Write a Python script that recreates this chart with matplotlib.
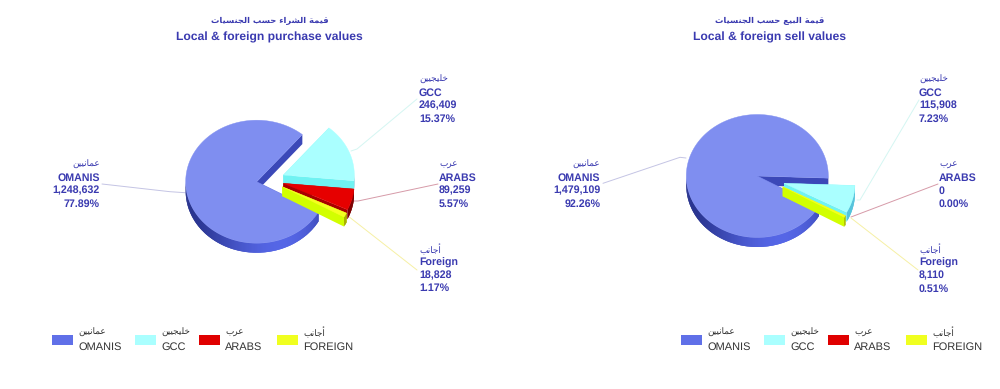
import numpy as np
import matplotlib
matplotlib.use("Agg")
import matplotlib.pyplot as plt
from matplotlib.patches import Polygon, Rectangle

plt.rcParams["text.hinting"] = "no_hinting"

# ---- data ----
categories = ["OMANIS", "GCC", "ARABS", "FOREIGN"]
categories_ar = ["عمانيين", "خليجيين", "عرب", "أجانب"]
label_names = ["OMANIS", "GCC", "ARABS", "Foreign"]
purchase_values = [1248632, 246409, 89259, 18828]
purchase_pct = ["77.89%", "15.37%", "5.57%", "1.17%"]
sell_values = [1479109, 115908, 0, 8110]
sell_pct = ["92.26%", "7.23%", "0.00%", "0.51%"]
purchase_title = ["قيمة الشراء حسب الجنسيات", "Local & foreign purchase values"]
sell_title = ["قيمة البيع حسب الجنسيات", "Local & foreign sell values"]

# ---- Arabic shaping (matplotlib does not shape or reorder) ----
FORMS = {  # isolated, final, initial, medial
    "ء": "\ufe80", "أ": "\ufe83\ufe84", "ا": "\ufe8d\ufe8e",
    "ة": "\ufe93\ufe94", "ر": "\ufead\ufeae",
    "ب": "\ufe8f\ufe90\ufe91\ufe92", "ج": "\ufe9d\ufe9e\ufe9f\ufea0",
    "ح": "\ufea1\ufea2\ufea3\ufea4", "خ": "\ufea5\ufea6\ufea7\ufea8",
    "س": "\ufeb1\ufeb2\ufeb3\ufeb4", "ش": "\ufeb5\ufeb6\ufeb7\ufeb8",
    "ع": "\ufec9\ufeca\ufecb\ufecc", "ق": "\ufed5\ufed6\ufed7\ufed8",
    "ل": "\ufedd\ufede\ufedf\ufee0", "م": "\ufee1\ufee2\ufee3\ufee4",
    "ن": "\ufee5\ufee6\ufee7\ufee8", "ي": "\ufef1\ufef2\ufef3\ufef4",
}


def shape(text):
    out = []
    for i, c in enumerate(text):
        f = FORMS.get(c)
        if f is None:
            out.append(c)
            continue
        p = text[i - 1] if i else " "
        n = text[i + 1] if i + 1 < len(text) else " "
        jp = p in FORMS and len(FORMS[p]) == 4
        jn = n in FORMS and len(f) == 4
        idx = (1 if jp else 0) + (2 if jn else 0)
        if len(f) < 4:
            idx = min(idx, len(f) - 1)
        out.append(f[idx])
    return "".join(reversed(out))


# ---- styles / layout ----
AR = "DejaVu Sans"
EN = "Liberation Sans"
INK = "#3a3ab0"
TOPS = ["#7f8ef0", "#aaffff", "#e60000", "#f4ff20"]
FACES = ["#3b48b8", "#70f2f2", "#a80000", "#d2ff00"]
LEG = ["#6070e8", "#aaffff", "#e00000", "#f0ff20"]
LINES = ["#c4c4e4", "#d4f6f2", "#d69aa8", "#f6f0a4"]
WALL_LO = np.array(matplotlib.colors.to_rgb("#2a3590"))
WALL_HI = np.array(matplotlib.colors.to_rgb("#5566e6"))
OUTER = [None, "#55c4dc", "#7c0000", "#a8b000"]
RX, RY, H = 71, 61.5, 9.5

fig = plt.figure(figsize=(10, 3.89), dpi=100)
ax = fig.add_axes([0, 0, 1, 1])
ax.set_xlim(0, 1000)
ax.set_ylim(389, 0)
ax.axis("off")


def rim(cx, cy, a):
    a = np.radians(a)
    return cx + RX * np.cos(a), cy - RY * np.sin(a)


def slice3d(i, cx, cy, a0, a1, z):
    px0, py0 = rim(cx, cy, a0)
    px1, py1 = rim(cx, cy, a1)
    for qx, qy in ((px0, py0), (px1, py1)):
        ax.add_patch(Polygon([(cx, cy), (qx, qy), (qx, qy + H), (cx, cy + H)],
                             fc=FACES[i], ec="none", zorder=z))
    step = 1.0
    ang = np.arange(a0, a1, step)
    for u in ang:
        mid = u + step / 2
        if np.sin(np.radians(mid)) > 0.02:
            continue
        v = min(u + 2.5 * step, a1)   # overlap the next step so no seams show
        x0, y0 = rim(cx, cy, u)
        x1, y1 = rim(cx, cy, v)
        if i == 0:
            t = np.clip(np.cos(np.radians(mid - 290)), 0, 1) ** 2.2
            col = WALL_LO + (WALL_HI - WALL_LO) * t
        else:
            col = OUTER[i]
        ax.add_patch(Polygon([(x0, y0), (x1, y1), (x1, y1 + H), (x0, y0 + H)],
                             fc=col, ec="none", zorder=z + 0.1))
    th = np.radians(np.linspace(a0, a1, 200))
    pts = [(cx, cy)] + list(zip(cx + RX * np.cos(th), cy - RY * np.sin(th)))
    ax.add_patch(Polygon(pts, fc=TOPS[i], ec=TOPS[i], lw=0.3, zorder=z + 0.2))


def pie(values, cx, cy, start, offsets):
    shares = np.array(values) / np.sum(values) * 360
    a = start
    spans = {0: (a, a + shares[0])}
    a += shares[0]
    for i in (3, 2, 1):
        spans[i] = (a, a + shares[i])
        a += shares[i]
    for z, i in enumerate((0, 1, 2, 3)):
        if values[i] == 0:
            continue
        slice3d(i, cx + offsets[i][0], cy + offsets[i][1], *spans[i], 2 + z)


def leaders(paths):
    for i, p in enumerate(paths):
        ax.plot(*zip(*p), color=LINES[i], lw=0.7, zorder=1, solid_capstyle="round")


def label(x, y, i, values, pcts, ha):
    ax.text(x, y, shape(categories_ar[i]), family=AR, fontsize=6.4, color=INK,
            ha=ha, va="center")
    for k, s in enumerate((label_names[i], f"{values[i]:,}", pcts[i])):
        ax.text(x, y + 17 + 12.7 * k, s, family=EN, fontweight="bold",
                fontsize=7.7, color=INK, ha=ha, va="baseline")


def titles(x, t):
    ax.text(x, 21, shape(t[0]), family=AR, fontweight="bold", fontsize=6.0,
            color=INK, ha="center", va="center")
    ax.text(x, 40.5, t[1], family=EN, fontweight="bold", fontsize=8.75, color=INK,
            ha="center", va="baseline")


def legend(xs, text_xs):
    for i, c in enumerate(categories):
        ax.add_patch(Rectangle((xs[i], 335), 21, 10, fc=LEG[i], ec="none"))
        ax.text(text_xs[i], 332, shape(categories_ar[i]), family=AR, fontsize=6.4,
                color="#333333", ha="left", va="center")
        ax.text(text_xs[i], 349.5, c, family=EN, fontsize=7.9, color="#333333",
                ha="left", va="baseline")


# left chart
titles(269.5, purchase_title)
leaders([
    [(102, 184), (170, 191.7), (185, 192.7)],
    [(351, 151), (357, 149), (417, 99)],
    [(354, 201), (358, 201), (438, 184)],
    [(348, 216), (417, 270)],
])
pie(purchase_values, 256.7, 181.7, 50,
    [(0, 0), (26.6, -6.7), (26.6, 1.6), (25.6, 5)])
label(100, 164, 0, purchase_values, purchase_pct, "right")
label(419, 79, 1, purchase_values, purchase_pct, "left")
label(439, 164, 2, purchase_values, purchase_pct, "left")
label(419, 249, 3, purchase_values, purchase_pct, "left")
legend([52, 135, 199, 277], [78, 161, 225, 303])

# right chart
titles(770, sell_title)
leaders([
    [(603, 183.3), (680, 157.3), (686, 158)],
    [(857, 200), (860, 200), (919, 100)],
    [(851, 217), (938, 184)],
    [(851, 218), (918, 270)],
])
pie(sell_values, 757.3, 176, -2,
    [(0, 0), (26.7, 7.3), (26, 9), (25.4, 10.7)])
label(600.5, 164, 0, sell_values, sell_pct, "right")
label(919, 79, 1, sell_values, sell_pct, "left")
label(939, 164, 2, sell_values, sell_pct, "left")
label(919, 249, 3, sell_values, sell_pct, "left")
legend([681, 764, 828, 906], [707, 790, 854, 932])

fig.savefig("out.png", dpi=100, facecolor="white")
